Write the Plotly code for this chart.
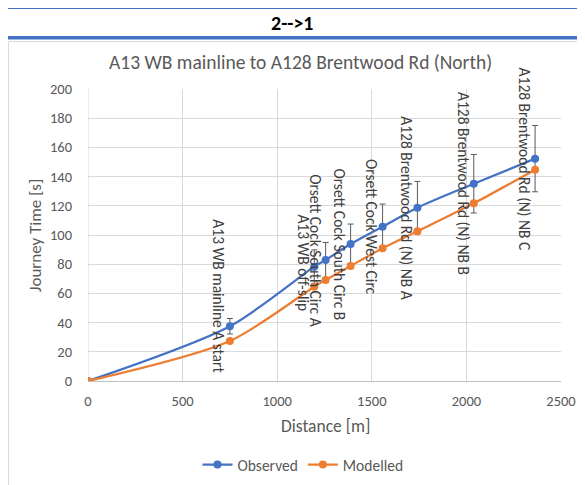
import plotly.graph_objects as go

# ---- data ----
labels = ["", "A13 WB mainline A start", "A13 WB off-slip", "Orsett Cock South Circ A",
          "Orsett Cock South Circ B", "Orsett Cock West Circ", "A128 Brentwood Rd (N) NB A",
          "A128 Brentwood Rd (N) NB B", "A128 Brentwood Rd (N) NB C"]
distance = [0, 750, 1196, 1256, 1388, 1557, 1741, 2039, 2363]
observed = [0, 37.5, 78.3, 82.9, 93.8, 105.7, 118.7, 135.1, 152.3]
modelled = [0, 27.4, 64.6, 69.2, 78.8, 90.9, 102.5, 121.7, 144.7]
obs_err = [0, 5.3, 11.5, 12, 13.7, 15.5, 18, 20, 22.7]
x_ticks = [0, 500, 1000, 1500, 2000, 2500]
y_ticks = [0, 20, 40, 60, 80, 100, 120, 140, 160, 180, 200]

# label offsets (pixels) – style only
label_yshift = [0, 30, 4, 10, 0, 0, 0, 0, 0]

# the page body has an 8px margin, so the figure starts at screen (8, 8)
OFF = 8
W, H = 585 - OFF, 485 - OFF
L = 88 - OFF
T = 89 - OFF
R = W - (561 - OFF)
B = H - (381 - OFF)
FONT = "Carlito, Calibri, Lato, sans-serif"
BLUE = "#4472C4"
ORANGE = "#ED7D31"
GREY = "#595959"

def px(sx):
    return (sx - OFF - L) / (W - L - R)

def py(sy):
    return (H - B - (sy - OFF)) / (H - T - B)

fig = go.Figure()
fig.add_trace(go.Scatter(
    x=distance, y=observed, name="Observed", mode="lines+markers",
    line=dict(color=BLUE, width=2.25, shape="spline", smoothing=0.8),
    marker=dict(color=BLUE, size=8),
    error_y=dict(type="data", array=obs_err, color=GREY, thickness=1, width=3),
))
fig.add_trace(go.Scatter(
    x=distance, y=modelled, name="Modelled", mode="lines+markers",
    line=dict(color=ORANGE, width=2.25, shape="spline", smoothing=0.8),
    marker=dict(color=ORANGE, size=8),
))

annotations = []
for lab, xv, yv, ys in zip(labels, distance, observed, label_yshift):
    if not lab:
        continue
    annotations.append(dict(
        x=xv, y=yv, xref="x", yref="y", text=lab, showarrow=False,
        textangle=90, xshift=-11, yshift=ys,
        font=dict(family=FONT, size=15.5, color="#404040"),
    ))

annotations.append(dict(
    x=px(292), y=py(23), xref="paper", yref="paper", text="<b>2-->1</b>",
    showarrow=False, font=dict(family=FONT, size=20, color="black"),
    xanchor="center", yanchor="middle",
))
annotations.append(dict(
    x=px(300), y=py(62), xref="paper", yref="paper",
    text="A13 WB mainline to A128 Brentwood Rd (North)",
    showarrow=False, font=dict(family=FONT, size=19.5, color=GREY),
    xanchor="center", yanchor="middle",
))
annotations.append(dict(
    x=px(325), y=py(426), xref="paper", yref="paper", text="Distance [m]",
    showarrow=False, font=dict(family=FONT, size=17.5, color=GREY),
    xanchor="center", yanchor="middle",
))
annotations.append(dict(
    x=px(35), y=py(236), xref="paper", yref="paper", text="Journey Time [s]",
    showarrow=False, textangle=-90, font=dict(family=FONT, size=17, color=GREY),
    xanchor="center", yanchor="middle",
))

shapes = [
    dict(type="line", xref="paper", yref="paper", x0=px(8), x1=px(590), y0=py(8.5), y1=py(8.5),
         line=dict(color=BLUE, width=1)),
    dict(type="rect", xref="paper", yref="paper", x0=px(8), x1=px(590), y0=py(36), y1=py(39.5),
         line=dict(width=0), fillcolor=BLUE),
    dict(type="rect", xref="paper", yref="paper", x0=px(8.5), x1=px(590), y0=py(41.5), y1=py(495),
         line=dict(color="#D9D9D9", width=1), fillcolor="rgba(0,0,0,0)"),
]

fig.update_layout(
    width=W, height=H,
    margin=dict(l=L, r=R, t=T, b=B, autoexpand=False),
    paper_bgcolor="white", plot_bgcolor="white",
    font=dict(family=FONT, size=14, color=GREY),
    showlegend=True,
    legend=dict(orientation="h", x=px(303), xanchor="center", y=py(465), yanchor="middle",
                font=dict(family=FONT, size=15.5, color=GREY)),
    annotations=annotations,
    shapes=shapes,
)
fig.update_xaxes(
    range=[0, 2500], tickvals=x_ticks, ticktext=[str(v) for v in x_ticks],
    showgrid=True, gridcolor="#D9D9D9", gridwidth=1, zeroline=False,
    showline=True, linecolor="#BFBFBF", linewidth=1, mirror=False,
    ticks="", tickfont=dict(family=FONT, size=14.5, color=GREY),
    ticklabelstandoff=7, automargin=False,
)
fig.update_yaxes(
    range=[0, 200], tickvals=y_ticks, ticktext=[str(v) for v in y_ticks],
    showgrid=True, gridcolor="#D9D9D9", gridwidth=1, zeroline=False,
    showline=False, ticks="", tickfont=dict(family=FONT, size=14.5, color=GREY),
    ticklabelstandoff=15, automargin=False,
)
fig.add_vline(x=0, line=dict(color="#D9D9D9", width=1), layer="below")

fig.write_html("out.html")
